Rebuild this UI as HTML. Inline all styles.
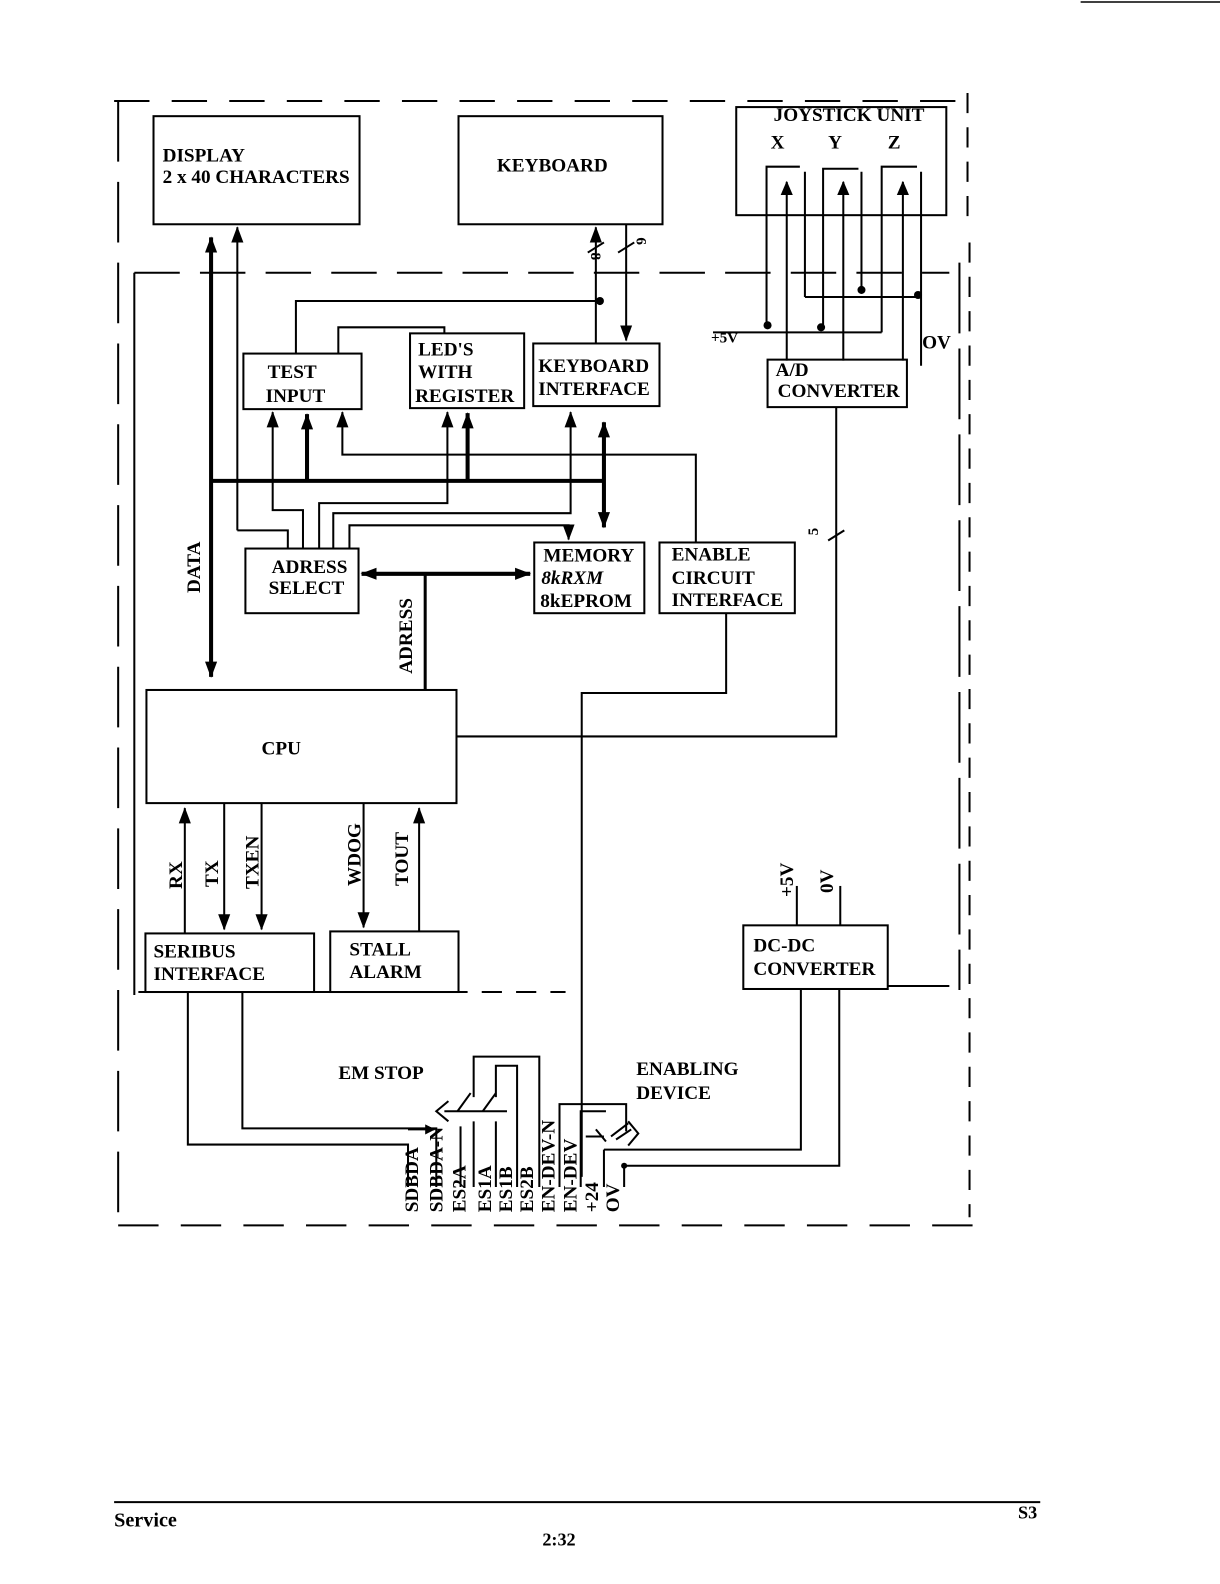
<!DOCTYPE html>
<html><head><meta charset="utf-8"><style>
body{margin:0;background:#fff}
svg{display:block}
text{font-family:"Liberation Serif",serif;font-weight:bold;fill:#000}
</style></head><body>
<svg width="1220" height="1584" viewBox="0 0 1208 1568" preserveAspectRatio="none" xmlns="http://www.w3.org/2000/svg">
<defs>
<marker id="a" markerWidth="10" markerHeight="10" refX="9" refY="5" orient="auto" markerUnits="userSpaceOnUse" viewBox="0 0 10 10"><path d="M0,0 L10,5 L0,10 z"/></marker>
<marker id="A" markerWidth="16" markerHeight="16" refX="15" refY="8" orient="auto-start-reverse" markerUnits="userSpaceOnUse" viewBox="0 0 16 16"><path d="M0,2 L16,8 L0,14 z"/></marker>
<marker id="s" markerWidth="14" markerHeight="14" refX="13" refY="7" orient="auto" markerUnits="userSpaceOnUse" viewBox="0 0 14 14"><path d="M0,1 L14,7 L0,13 z"/></marker>
</defs>
<g fill="none" stroke="#000" stroke-width="2">
<line x1="1070" y1="2" x2="1220" y2="2" stroke-width="1.5"/>
<path d="M113,100 H958" stroke-dasharray="35,22"/>
<path d="M958,92 V220 M960,240 V1205" stroke-dasharray="20,14"/>
<path d="M117,100 V1213" stroke-dasharray="60,20"/>
<path d="M117,1213 H968" stroke-dasharray="40,22"/>
<path d="M133,270 H940" stroke-dasharray="45,20"/>
<line x1="133" y1="270" x2="133" y2="985"/>
<path d="M137,982 H560" stroke-dasharray="20,14"/>
<line x1="879" y1="976" x2="940" y2="976"/>
<path d="M950,260 V980" stroke-dasharray="70,15"/>
<rect x="152" y="115" width="204" height="107"/>
<rect x="454" y="115" width="202" height="107"/>
<rect x="729" y="106" width="208" height="107"/>
<rect x="241" y="350" width="117" height="55"/>
<rect x="406" y="330" width="113" height="74"/>
<rect x="528" y="340" width="125" height="62"/>
<rect x="760" y="356" width="138" height="47"/>
<rect x="243" y="543" width="112" height="64"/>
<rect x="529" y="537" width="109" height="70"/>
<rect x="653" y="537" width="134" height="70"/>
<rect x="145" y="683" width="307" height="112"/>
<rect x="144" y="924" width="167" height="58"/>
<rect x="327" y="922" width="127" height="60"/>
<rect x="736" y="916" width="143" height="63"/>
<path d="M759,322 V165 H792 M797,170 V294"/>
<path d="M815,322 V167 H850 M853,170 V288"/>
<path d="M873,329 V165 H908 M912,170 V362"/>
<line x1="779" y1="357" x2="779" y2="180" marker-end="url(#s)"/>
<line x1="835" y1="357" x2="835" y2="180" marker-end="url(#s)"/>
<line x1="894" y1="357" x2="894" y2="180" marker-end="url(#s)"/>
<line x1="797" y1="294" x2="912" y2="294"/>
<line x1="706" y1="329" x2="873" y2="329"/>
</g>
<g fill="#000">
<circle cx="760" cy="322" r="4"/><circle cx="813" cy="324" r="4"/><circle cx="853" cy="287" r="4"/><circle cx="909" cy="292" r="4"/><circle cx="594" cy="298" r="4"/>
</g>
<g fill="none" stroke="#000" stroke-width="2">
<line x1="209" y1="235" x2="209" y2="670" stroke-width="4" marker-start="url(#A)" marker-end="url(#A)"/>
<line x1="235" y1="525" x2="235" y2="225" marker-end="url(#A)"/>
<path d="M235,525 H285 V543"/>
<line x1="209" y1="476" x2="598" y2="476" stroke-width="4"/>
<line x1="598" y1="418" x2="598" y2="522" stroke-width="4" marker-start="url(#A)" marker-end="url(#A)"/>
<line x1="304" y1="476" x2="304" y2="410" stroke-width="4" marker-end="url(#A)"/>
<line x1="463" y1="476" x2="463" y2="409" stroke-width="4" marker-end="url(#A)"/>
<path d="M300,543 V505 H270 V408" marker-end="url(#A)"/>
<path d="M316,543 V498 H443 V408" marker-end="url(#A)"/>
<path d="M330,543 V508 H565 V408" marker-end="url(#A)"/>
<path d="M346,543 V520 H563 V534" marker-end="url(#A)"/>
<path d="M689,537 V450 H339 V408" marker-end="url(#A)"/>
<line x1="590" y1="340" x2="590" y2="225" marker-end="url(#A)"/>
<line x1="620" y1="222" x2="620" y2="337" marker-end="url(#A)"/>
<line x1="582" y1="250" x2="598" y2="240"/><line x1="612" y1="250" x2="628" y2="240"/>
<path d="M293,350 V298 H594"/>
<path d="M335,350 V324 H440 V330"/>
<line x1="358" y1="568" x2="525" y2="568" stroke-width="4" marker-start="url(#A)" marker-end="url(#A)"/>
<line x1="421" y1="568" x2="421" y2="683" stroke-width="3"/>
<path d="M828,403 V729 H452"/>
<line x1="820" y1="535" x2="836" y2="525"/>
<path d="M719,607 V686 H576 V1165"/>
<line x1="183" y1="924" x2="183" y2="800" marker-end="url(#A)"/>
<line x1="222" y1="795" x2="222" y2="920" marker-end="url(#A)"/>
<line x1="259" y1="795" x2="259" y2="920" marker-end="url(#A)"/>
<line x1="360" y1="795" x2="360" y2="918" marker-end="url(#A)"/>
<line x1="415" y1="922" x2="415" y2="800" marker-end="url(#A)"/>
<path d="M186,982 V1133 H404 V1175"/>
<path d="M240,982 V1117 H432 V1175"/>
<line x1="404" y1="1118" x2="430" y2="1118" marker-end="url(#a)"/>
<path d="M456,1175 V1115"/>
<path d="M469,1086 V1046 H534 V1175"/>
<path d="M491,1086 V1055 H512 V1175"/>
<path d="M453,1100 L466,1082 M478,1100 L491,1082"/>
<path d="M440,1100 H502"/>
<path d="M444,1090 L432,1100 L444,1110"/>
<line x1="469" y1="1110" x2="469" y2="1175"/>
<line x1="491" y1="1110" x2="491" y2="1175"/>
<path d="M554,1175 V1093 H620 V1120"/>
<path d="M575,1175 V1100 H600"/>
<path d="M590,1118 L600,1130 M580,1125 H598 M605,1125 L622,1112 M610,1128 L625,1118 M622,1110 L632,1122 L622,1134"/>
<path d="M598,1138 V1175"/>
<path d="M598,1138 H793 V979"/>
<path d="M618,1154 V1175 M618,1154 H831 V979"/>
<line x1="789" y1="877" x2="789" y2="916"/>
<line x1="832" y1="877" x2="832" y2="916"/>
<line x1="113" y1="1487" x2="1030" y2="1487" stroke-width="2"/>
</g>
<circle cx="618" cy="1154" r="3" fill="#000"/>
<g font-size="19">
<text x="161" y="160">DISPLAY</text>
<text x="161" y="181">2 x 40 CHARACTERS</text>
<text x="492" y="170">KEYBOARD</text>
<text x="766" y="120">JOYSTICK UNIT</text>
<text x="763" y="147">X</text><text x="820" y="147">Y</text><text x="879" y="147">Z</text>
<text x="704" y="339" font-size="15">+5V</text>
<text x="913" y="345">OV</text>
<text x="265" y="374">TEST</text><text x="263" y="398">INPUT</text>
<text x="414" y="352">LED'S</text><text x="414" y="374">WITH</text><text x="411" y="398">REGISTER</text>
<text x="533" y="368">KEYBOARD</text><text x="533" y="391">INTERFACE</text>
<text x="768" y="372">A/D</text><text x="770" y="393">CONVERTER</text>
<text x="269" y="567">ADRESS</text><text x="266" y="588">SELECT</text>
<text x="538" y="556">MEMORY</text><text x="536" y="578" font-style="italic">8kRXM</text><text x="535" y="601">8kEPROM</text>
<text x="665" y="555">ENABLE</text><text x="665" y="578">CIRCUIT</text><text x="665" y="600">INTERFACE</text>
<text x="259" y="747">CPU</text>
<text x="152" y="948">SERIBUS</text><text x="152" y="970">INTERFACE</text>
<text x="346" y="946">STALL</text><text x="346" y="968">ALARM</text>
<text x="746" y="942">DC-DC</text><text x="746" y="965">CONVERTER</text>
<text x="335" y="1068">EM STOP</text>
<text x="630" y="1064">ENABLING</text><text x="630" y="1088">DEVICE</text>
<text transform="translate(198,587) rotate(-90)">DATA</text>
<text transform="translate(408,667) rotate(-90)">ADRESS</text>
<text transform="translate(180,880) rotate(-90)">RX</text>
<text transform="translate(216,878) rotate(-90)">TX</text>
<text transform="translate(256,880) rotate(-90)">TXEN</text>
<text transform="translate(357,877) rotate(-90)">WDOG</text>
<text transform="translate(404,877) rotate(-90)">TOUT</text>
<text transform="translate(585,250) rotate(90)" font-size="15">8</text>
<text transform="translate(630,235) rotate(90)" font-size="15">6</text>
<text transform="translate(810,530) rotate(-90)" font-size="15">5</text>
<text transform="translate(785,888) rotate(-90)">+5V</text>
<text transform="translate(825,884) rotate(-90)">0V</text>
<text transform="translate(414,1200) rotate(-90)">SDBDA</text>
<text transform="translate(438,1200) rotate(-90)">SDBDA-N</text>
<text transform="translate(461,1200) rotate(-90)">ES2A</text>
<text transform="translate(486,1200) rotate(-90)">ES1A</text>
<text transform="translate(507,1200) rotate(-90)">ES1B</text>
<text transform="translate(528,1200) rotate(-90)">ES2B</text>
<text transform="translate(549,1200) rotate(-90)">EN-DEV-N</text>
<text transform="translate(571,1200) rotate(-90)">EN-DEV</text>
<text transform="translate(592,1200) rotate(-90)">+24</text>
<text transform="translate(613,1200) rotate(-90)">OV</text>
<text x="113" y="1511" font-size="20">Service</text>
<text x="1008" y="1503" font-size="18">S3</text>
<text x="537" y="1530" font-size="18">2:32</text>
</g>
</svg>
</body></html>
